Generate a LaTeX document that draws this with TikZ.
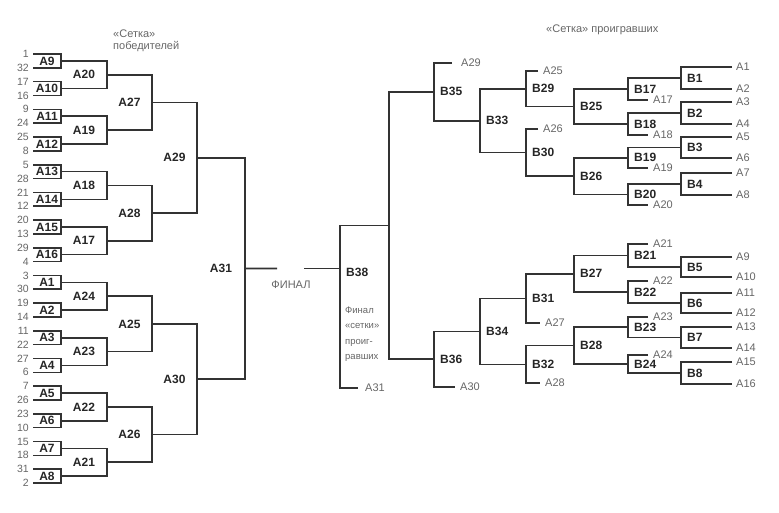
\documentclass[tikz,border=0pt]{standalone}
\usepackage{fontspec}
\setmainfont{Liberation Sans}
\usetikzlibrary{positioning}
\tikzset{
  wire/.style={line width=1.6pt, draw=black!80},
  win/.style={font=\fontsize{12}{14}\selectfont\bfseries, text=black!85, inner sep=1pt},
  los/.style={font=\fontsize{12}{14}\selectfont\bfseries, text=black!85, inner sep=1pt, anchor=west},
  seed/.style={font=\fontsize{10.5}{12}\selectfont, text=black!60, inner sep=1pt, anchor=east},
  stub/.style={font=\fontsize{11}{13}\selectfont, text=black!60, inner sep=1pt, anchor=west},
  note/.style={font=\fontsize{11}{13}\selectfont, text=black!60, inner sep=1pt, anchor=west, align=left}
}
\begin{document}
\begin{tikzpicture}[x=1pt, y=-1pt]
  \useasboundingbox (0,0) rectangle (779,512);
  % winners bracket
  \foreach \L/\X/\Xp/\n in {1/61/33/16, 2/107/61/8, 3/152/107/4, 4/197/152/2, 5/245/197/1}{
    \pgfmathtruncatemacro\m{\n-1}
    \foreach \j in {0,...,\m}{
      \pgfmathsetmacro\yt{54+13.84*(2^(\L-1)*(2*\j)+(2^(\L-1)-1)/2)}
      \pgfmathsetmacro\yb{54+13.84*(2^(\L-1)*(2*\j+1)+(2^(\L-1)-1)/2)}
      \pgfmathsetmacro\ym{(\yt+\yb)/2}
      \coordinate (w\L-\j t) at (\Xp,\yt);
      \coordinate (w\L-\j b) at (\Xp,\yb);
      \coordinate (w\L-\j) at (\X,\ym);
      \coordinate (c\L-\j) at ({(\X+\Xp)/2},\ym);
      \draw[wire] (w\L-\j t) -| (w\L-\j) |- (w\L-\j b);
    }
  }
  \foreach \s [count=\k from 0] in {1,32,17,16,9,24,25,8,5,28,21,12,20,13,29,4,3,30,19,14,11,22,27,6,7,26,23,10,15,18,31,2}
    \node[seed] (s\s) at (30,{54+13.84*\k}) {\s};
  \foreach \nm [count=\k from 0] in {A9,A10,A11,A12,A13,A14,A15,A16,A1,A2,A3,A4,A5,A6,A7,A8}
    \node[win] (\nm) at (c1-\k) {\nm};
  \foreach \nm [count=\k from 0] in {A20,A19,A18,A17,A24,A23,A22,A21}
    \node[win] (\nm) at (c2-\k) {\nm};
  \foreach \nm [count=\k from 0] in {A27,A28,A25,A26}
    \node[win] (\nm) at (c3-\k) {\nm};
  \node[win] (A29) at (c4-0) {A29};
  \node[win] (A30) at (c4-1) {A30};
  \node[win] (A31) at (c5-0) {A31};
  \node[note] (hw) at (112,41) {«Сетка»\\[-1pt]победителей};
  % final
  \coordinate (f1) at (277,268.5);
  \coordinate (f2) at (304,268.5);
  \coordinate (f3) at (340,268.5);
  \draw[wire] (w5-0) -- (f1);
  \draw[wire] (f2) -- (f3);
  \node[font=\fontsize{11}{13}\selectfont, text=black!60] (fin) at (291,285) {ФИНАЛ};
  % losers bracket
  \foreach \nm/\X/\t/\te/\b/\be in {
      B1/681/67/732/89/732, B2/681/102/732/124/732, B3/681/137/732/158/732, B4/681/173/732/195/732,
      B17/628/78/681/100/648, B18/628/113/681/135/648, B19/628/147.5/681/168/648, B20/628/184/681/205/648,
      B25/574/89/628/124/628, B26/574/157.75/628/194.5/628,
      B29/526/71/538/106.5/574, B30/526/129/538/176.1/574,
      B33/480/88.75/526/152.6/526, B35/434/63/452/120.7/480,
      B5/681/257/732/277/732, B6/681/293/732/313/732, B7/681/327/732/348/732, B8/681/362/732/384/732,
      B21/628/244/648/267/681, B22/628/281/648/303/681, B23/628/317/648/337.5/681, B24/628/355/648/373/681,
      B27/574/255.5/628/292/628, B28/574/327.25/628/364/628,
      B31/526/273.75/574/323/540, B32/526/345.6/574/383/540,
      B34/480/298.4/526/364.3/526, B36/434/331.35/480/387/455,
      B37/389/91.9/434/359.2/434}{
    \coordinate (\nm t) at (\te,\t);
    \coordinate (\nm b) at (\be,\b);
    \coordinate (\nm) at (\X,{(\t+\b)/2});
    \draw[wire] (\nm t) -| (\nm) |- (\nm b);
  }
  \foreach \nm in {B1,B2,B3,B4,B5,B6,B7,B8,B17,B18,B19,B20,B21,B22,B23,B24,B25,B26,B27,B28,B29,B30,B31,B32,B33,B34,B35,B36}
    \node[los] (l\nm) at ([xshift=5pt]\nm) {\nm};
  \coordinate (B38t) at (B37);
  \coordinate (B38b) at (358,388);
  \draw[wire] (B38t) -| (f3) |- (B38b);
  \node[los] (lB38) at (345,272) {B38};
  \node[note, font=\fontsize{9.5}{15.5}\selectfont] (fl) at (344,334) {Финал\\«сетки»\\проиг-\\равших};
  % entries from the winners bracket
  \foreach \nm/\x/\y in {A1/735/67, A2/735/89, A3/735/102, A4/735/124, A5/735/137, A6/735/158, A7/735/173, A8/735/195,
      A9/735/257, A10/735/277, A11/735/293, A12/735/313, A13/735/327, A14/735/348, A15/735/362, A16/735/384,
      A17/652/100, A18/652/135, A19/652/168, A20/652/205, A21/652/244, A22/652/281, A23/652/317, A24/652/355,
      A25/542/71, A26/542/129, A27/544/323, A28/544/383, A29/460/63, A30/459/387, A31/364/388}
    \node[stub] (r\nm) at (\x,\y) {\nm};
  \node[note] (hl) at (545,30) {«Сетка» проигравших};
\end{tikzpicture}
\end{document}
